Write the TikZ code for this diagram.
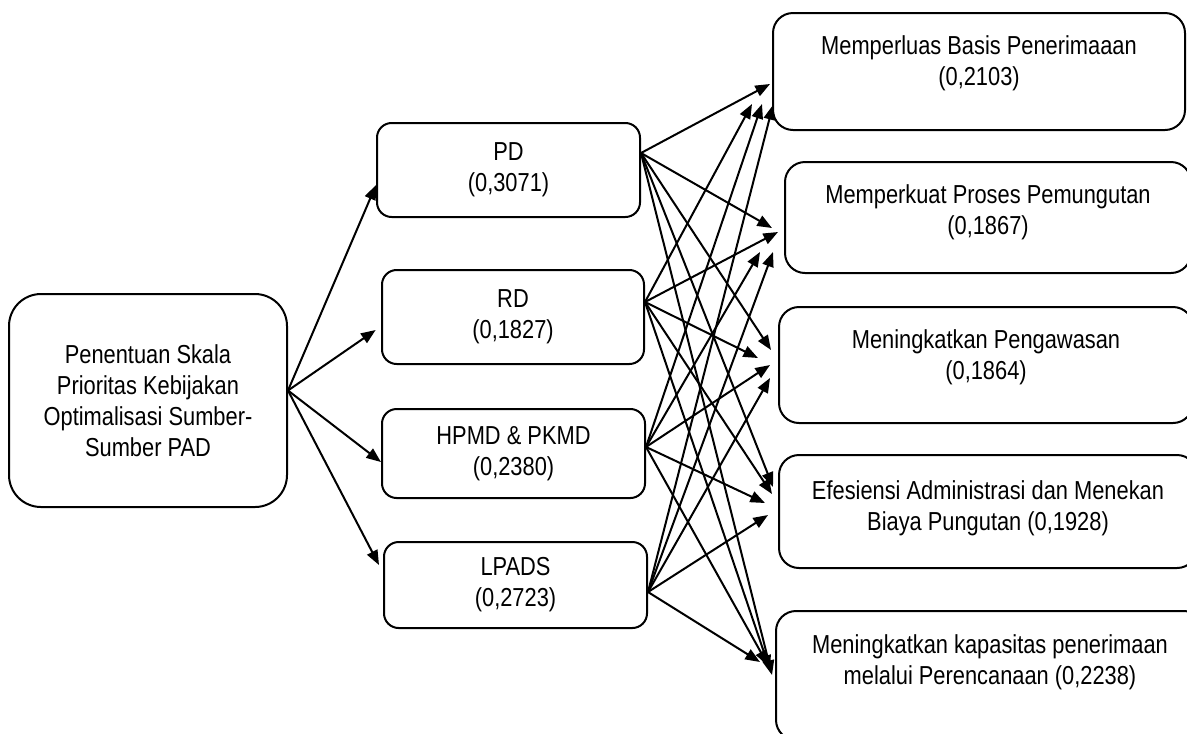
\documentclass[tikz,border=0pt]{standalone}
\usepackage{fontspec}
\setmainfont{Liberation Sans}[FakeStretch=0.84]
\usetikzlibrary{arrows.meta}
\begin{document}
\begin{tikzpicture}[x=0.75pt,y=-0.75pt,
  bx/.style 2 args={draw, line width=1.5pt, minimum width=#1*0.75pt, minimum height=#2*0.75pt, inner sep=0pt, align=center, font=\fontsize{19.5}{23.25}\selectfont},
  rootbox/.style={rounded corners=24pt},
  midbox/.style={rounded corners=11pt},
  rightbox/.style={rounded corners=15pt},
  txt/.style={anchor=north, inner sep=0pt, align=center, font=\fontsize{19.5}{23.25}\selectfont},
  arr/.style={line width=1.5pt, -{Triangle[length=11pt,width=8.5pt]}},
]
\useasboundingbox (0,0) rectangle (1187,733);
\fill[white] (0,0) rectangle (1187,733);
\clip (0,0) rectangle (1187,733);

% left root
\node[bx={278}{213}, rootbox] (root) at (148,400.5) {Penentuan Skala\\Prioritas Kebijakan\\Optimalisasi Sumber-\\Sumber PAD};

% middle
\node[bx={263}{94}, midbox] (pd) at (508.5,170) {PD\\(0,3071)};
\node[bx={262}{94}, midbox] (rd) at (513,317) {RD\\(0,1827)};
\node[bx={263}{89}, midbox] (hp) at (513.5,453.5) {HPMD \& PKMD\\(0,2380)};
\node[bx={263}{86}, midbox] (lp) at (515.5,585) {LPADS\\(0,2723)};

% right
\node[bx={412}{117}, rightbox] (r1) at (979,71.5) {};
\node[bx={406}{111}, rightbox] (r2) at (988,217.5) {};
\node[bx={414}{116}, rightbox] (r3) at (986,365) {};
\node[bx={418}{113}, rightbox] (r4) at (988,511.5) {};
\node[bx={428}{129}, rightbox] (r5) at (990,675.5) {};

\node[txt] (t1) at ([yshift=-17.25pt]r1.north) {Memperluas Basis Penerimaaan\\(0,2103)};
\node[txt] (t2) at ([yshift=-17.25pt]r2.north) {Memperkuat Proses Pemungutan\\(0,1867)};
\node[txt] (t3) at ([yshift=-17.25pt]r3.north) {Meningkatkan Pengawasan\\(0,1864)};
\node[txt] (t4) at ([yshift=-19.5pt]r4.north) {Efesiensi Administrasi dan Menekan\\Biaya Pungutan (0,1928)};
\node[txt] (t5) at ([yshift=-18pt]r5.north) {Meningkatkan kapasitas penerimaan\\melalui Perencanaan (0,2238)};

% root to middle
\draw[arr] ([yshift=7.5pt]root.east) -- ([yshift=-11.25pt]pd.west);
\draw[arr] ([yshift=7.5pt]root.east) -- ([xshift=-4pt,yshift=-9.75pt]rd.west);
\draw[arr] ([yshift=7.5pt]root.east) -- ([yshift=-6.4pt]hp.west);
\draw[arr] ([yshift=7.5pt]root.east) -- ([xshift=-3pt,yshift=15pt]lp.west);

% source points
\coordinate (spd) at ([yshift=12.75pt]pd.east);
\coordinate (srd) at ([yshift=11.25pt]rd.east);
\coordinate (shp) at ([yshift=4.9pt]hp.east);
\coordinate (slp) at ([yshift=-5.25pt]lp.east);

% target points
\coordinate (a1) at (770,84);  \coordinate (b1) at (752,104); \coordinate (c1) at (762,104); \coordinate (d1) at (773,105);
\coordinate (a2) at (772,228); \coordinate (b2) at (778,232); \coordinate (c2) at (760,252); \coordinate (d2) at (773,252);
\coordinate (a3) at (771,350); \coordinate (b3) at (758,358); \coordinate (c3) at (770,365); \coordinate (d3) at (770,378);
\coordinate (a4) at (773,487); \coordinate (b4) at (772,494); \coordinate (c4) at (765,503); \coordinate (d4) at (768,515);
\coordinate (a5) at (772,675); \coordinate (b5) at (770,670); \coordinate (c5) at (768,665); \coordinate (d5) at (760,662);

\foreach \i in {1,...,5}{
  \draw[arr] (spd) -- (a\i);
  \draw[arr] (srd) -- (b\i);
  \draw[arr] (shp) -- (c\i);
  \draw[arr] (slp) -- (d\i);
}
\end{tikzpicture}
\end{document}
